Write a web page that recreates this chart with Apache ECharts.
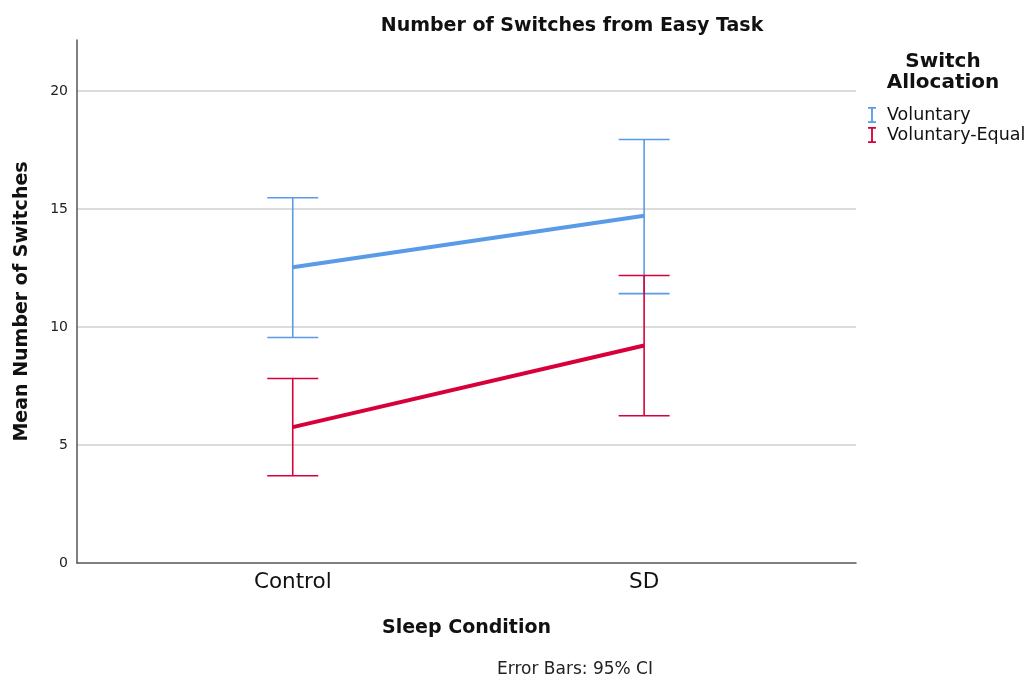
<!DOCTYPE html>
<html>
<head>
<meta charset="utf-8">
<script src="https://cdn.jsdelivr.net/npm/echarts@6/dist/echarts.min.js"></script>
<style>
html,body{margin:0;padding:0;background:#fff;}
#chart{width:1032px;height:677px;}
</style>
</head>
<body>
<div id="chart"></div>
<script>
// ---- data ----
var categories = ['Control', 'SD'];
var seriesNames = ['Voluntary', 'Voluntary-Equal'];
var voluntaryMean = [12.54, 14.72];
var voluntaryLow = [9.56, 11.42];
var voluntaryHigh = [15.48, 17.95];
var equalMean = [5.76, 9.22];
var equalLow = [3.70, 6.24];
var equalHigh = [7.82, 12.19];
var yTicks = [0, 5, 10, 15, 20];
var gridValues = [5, 10, 15, 20];

var FONT = 'DejaVu Sans';
var BLUE = '#5a9be8';
var RED = '#d8003a';

function meanData(arr) { return arr.map(function (v, i) { return [i, v]; }); }
function errData(lo, hi) { return lo.map(function (v, i) { return [i, v, hi[i]]; }); }

function renderErr(params, api) {
  var x = api.value(0);
  var p1 = api.coord([x, api.value(1)]);
  var p2 = api.coord([x, api.value(2)]);
  var hw = 25.5;
  var style = { stroke: api.visual('color'), lineWidth: 1.6, fill: null };
  return {
    type: 'group',
    children: [
      { type: 'line', shape: { x1: p1[0], y1: p1[1], x2: p2[0], y2: p2[1] }, style: style },
      { type: 'line', shape: { x1: p1[0] - hw, y1: p1[1], x2: p1[0] + hw, y2: p1[1] }, style: style },
      { type: 'line', shape: { x1: p2[0] - hw, y1: p2[1], x2: p2[0] + hw, y2: p2[1] }, style: style }
    ]
  };
}

var chart = echarts.init(document.getElementById('chart'), null, { renderer: 'canvas' });
var iconPath = 'path://M0,0 L7,0 L7,1.6 L4.3,1.6 L4.3,12.4 L7,12.4 L7,14 L0,14 L0,12.4 L2.7,12.4 L2.7,1.6 L0,1.6 Z';

chart.setOption({
  animation: false,
  backgroundColor: '#fff',
  textStyle: { fontFamily: FONT },
  title: [
    { text: 'Number of Switches from Easy Task', left: 567, top: 12, textAlign: 'center',
      textStyle: { fontFamily: FONT, fontSize: 19, fontWeight: 'bold', color: '#111' } },
    { text: 'Switch\nAllocation', left: 938, top: 46, textAlign: 'center',
      textStyle: { fontFamily: FONT, fontSize: 20, fontWeight: 'bold', color: '#111', lineHeight: 21 } },
    { text: 'Error Bars: 95% CI', left: 570, top: 656, textAlign: 'center',
      textStyle: { fontFamily: FONT, fontSize: 17, fontWeight: 'normal', color: '#222' } }
  ],
  legend: {
    data: seriesNames,
    orient: 'vertical',
    left: 868,
    top: 106,
    padding: 0,
    itemWidth: 8,
    itemHeight: 16,
    itemGap: 2,
    icon: iconPath,
    textStyle: { fontFamily: FONT, fontSize: 17.5, color: '#111', padding: [0, 0, 0, 6] }
  },
  grid: { left: 77, right: 176, top: 40, bottom: 114, containLabel: false },
  xAxis: {
    type: 'value',
    min: -0.614,
    max: 1.603,
    axisLine: { show: true, onZero: false, lineStyle: { color: '#555', width: 1.5 } },
    axisTick: { show: false },
    splitLine: { show: false },
    axisLabel: {
      customValues: [0, 1],
      formatter: function (v) { return categories[Math.round(v)]; },
      fontFamily: FONT, fontSize: 21.5, color: '#111', margin: 8
    },
    name: 'Sleep Condition',
    nameLocation: 'middle',
    nameGap: 56,
    nameTextStyle: { fontFamily: FONT, fontSize: 19, fontWeight: 'bold', color: '#111' }
  },
  yAxis: {
    type: 'value',
    min: 0,
    max: 22.17,
    interval: 5,
    axisLine: { show: true, onZero: false, lineStyle: { color: '#555', width: 1.5 } },
    axisTick: { show: false },
    axisLabel: {
      customValues: yTicks,
      fontFamily: FONT, fontSize: 14, color: '#222', margin: 9
    },
    splitLine: { show: false },
    name: 'Mean Number of Switches',
    nameLocation: 'middle',
    nameGap: 45,
    nameTextStyle: { fontFamily: FONT, fontSize: 19, fontWeight: 'bold', color: '#111' }
  },
  series: [
    { name: 'grid', type: 'line', data: [], z: 0, silent: true,
      markLine: {
        silent: true, symbol: 'none', label: { show: false }, animation: false, z: 0,
        lineStyle: { color: '#cfcfcf', width: 1.5, type: 'solid' },
        emphasis: { disabled: true },
        data: gridValues.map(function (v) { return { yAxis: v }; })
      } },
    { name: seriesNames[0], type: 'line', data: meanData(voluntaryMean), color: BLUE,
      symbol: 'none', lineStyle: { width: 4, color: BLUE }, z: 3 },
    { name: seriesNames[1], type: 'line', data: meanData(equalMean), color: RED,
      symbol: 'none', lineStyle: { width: 4, color: RED }, z: 3 },
    { name: seriesNames[0], type: 'custom', data: errData(voluntaryLow, voluntaryHigh), color: BLUE,
      renderItem: renderErr, encode: { x: 0, y: [1, 2] }, z: 2 },
    { name: seriesNames[1], type: 'custom', data: errData(equalLow, equalHigh), color: RED,
      renderItem: renderErr, encode: { x: 0, y: [1, 2] }, z: 4 }
  ]
});
</script>
</body>
</html>
